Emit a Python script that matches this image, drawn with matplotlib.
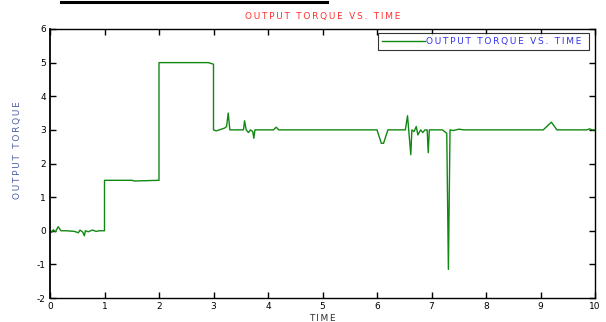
import numpy as np
import matplotlib.pyplot as plt
from matplotlib.lines import Line2D

plt.rcParams["axes.unicode_minus"] = False

# Torque response samples (time in s, torque)
time = [0.0, 0.03, 0.06, 0.1, 0.15, 0.2, 0.3, 0.45, 0.52, 0.55, 0.6, 0.63, 0.65, 0.7, 0.78, 0.85, 0.9, 1.0,
        1.0, 1.5, 1.55, 2.0,
        2.0, 2.9, 2.97, 3.0,
        3.0, 3.05, 3.2, 3.24, 3.27, 3.3, 3.55, 3.57, 3.6, 3.64, 3.68, 3.72, 3.74, 3.76, 4.1, 4.15, 4.2,
        6.0, 6.08, 6.12, 6.2, 6.52, 6.56, 6.62, 6.64, 6.68, 6.72, 6.75, 6.8, 6.84, 6.88, 6.92, 6.94, 6.96,
        7.2, 7.24, 7.28, 7.31, 7.34, 7.4, 7.5, 7.6, 9.05, 9.2, 9.3, 9.85, 9.9, 9.95, 10.0]
torque = [0.0, -0.05, 0.03, -0.03, 0.12, 0.0, 0.0, -0.02, -0.06, 0.02, -0.04, -0.15, 0.0, -0.03, 0.02, -0.02, 0.0, 0.0,
          1.5, 1.5, 1.48, 1.5,
          5.0, 5.0, 4.97, 4.95,
          3.0, 2.97, 3.05, 3.1, 3.5, 3.0, 3.0, 3.27, 3.0, 2.92, 3.0, 2.95, 2.75, 3.0, 3.0, 3.08, 3.0,
          3.0, 2.6, 2.6, 3.0, 3.0, 3.42, 2.26, 3.0, 2.95, 3.1, 2.85, 3.0, 2.92, 3.0, 3.0, 2.32, 3.0,
          3.0, 2.95, 2.9, -1.15, 3.0, 2.98, 3.02, 3.0, 3.0, 3.23, 3.0, 3.0, 3.03, 3.0, 3.0]

title_text = "OUTPUT TORQUE VS. TIME"
ylabel_text = "OUTPUT TORQUE"
xlabel_text = "TIME"


def spaced(s):
  # wide letter spacing
  return "\u2009".join(s)


fig = plt.figure(figsize=(6.06, 3.22), dpi=100)
ax = fig.add_axes([50 / 606, 1 - 298 / 322, 545 / 606, 269 / 322])

ax.plot(time, torque, color="#118811", lw=1.0, label=spaced(title_text) + "\u2009\u2009")

ax.set_xlim(0, 10)
ax.set_ylim(-2, 6)
ax.set_xticks(np.arange(0, 11, 1))
ax.set_yticks(np.arange(-2, 7, 1))
ax.tick_params(direction="in", top=True, right=True, length=4, width=1,
               labelsize=6.5, pad=3, colors="black")
for side in ["left", "bottom", "top", "right"]:
  ax.spines[side].set_linewidth(1.0)
ax.spines["left"].set_linewidth(1.3)

ax.set_title(spaced(title_text), color="#ff3030", fontsize=6.5, pad=7)
ax.set_ylabel(spaced(ylabel_text), color="#5060a8", fontsize=6.5)
ax.yaxis.set_label_coords(-28 / 545, (298 - 150) / 269)
ax.set_xlabel(spaced(xlabel_text), color="#303030", fontsize=6.5, labelpad=2)

leg = ax.legend(loc="upper right", bbox_to_anchor=(539 / 545, 1 - 4 / 269), fontsize=6.5,
                frameon=True, fancybox=False, handlelength=4.8, handletextpad=0.1,
                borderpad=0.45, borderaxespad=0)
leg.get_frame().set_edgecolor("black")
leg.get_frame().set_linewidth(0.8)
for t in leg.get_texts():
  t.set_color("#3333ee")

# rule left over at the top edge
fig.add_artist(Line2D([61 / 606, 327 / 606], [1 - 2 / 322, 1 - 2 / 322], color="black", lw=2.2))

fig.savefig("out.png", dpi=100)
